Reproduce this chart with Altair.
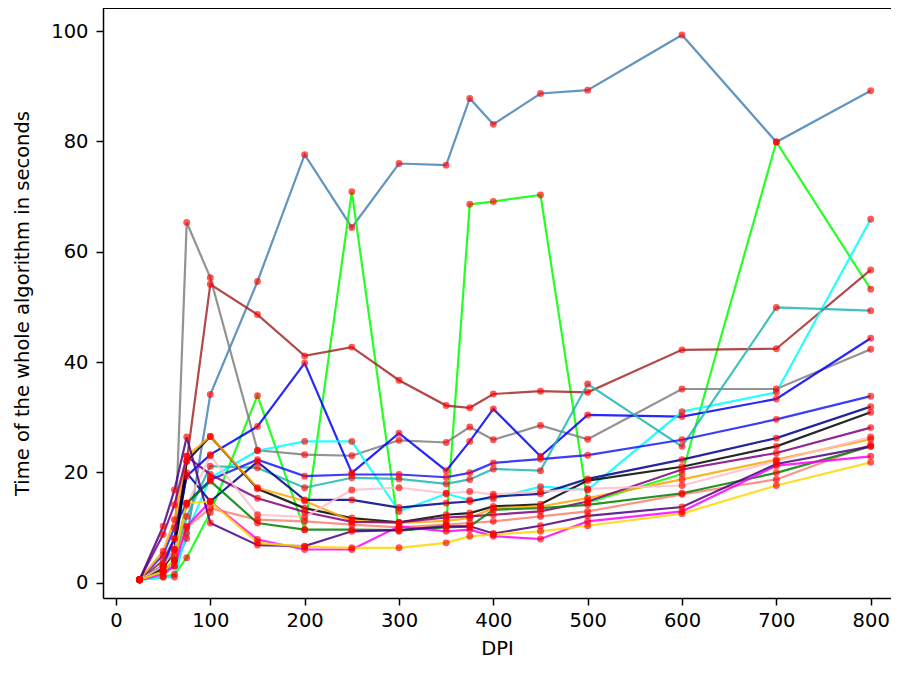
import altair as alt
import pandas as pd

dpi = [25, 50, 62, 75, 100, 150, 200, 250, 300, 350, 375, 400, 450, 500, 600, 700, 800]

series_names = ["steelblue", "lime", "gray", "brown", "blue1", "cyan", "teal", "blue2",
                "navy", "black", "orange", "purple", "pink", "salmon", "green",
                "magenta", "indigo", "gold"]
series_colors = ["#4682b4", "#00ff00", "#808080", "#a52a2a", "#0000ff", "#00ffff", "#20b5b5", "#1a1aff",
                 "#00008b", "#000000", "#ffa500", "#800080", "#ffc0cb", "#fa8072", "#008000",
                 "#ff00ff", "#4b0082", "#ffd700"]

steelblue = [0.5, 2.0, 3.0, 8.0, 34.1, 54.6, 77.6, 64.4, 76.0, 75.7, 87.8, 83.1, 88.7, 89.3, 99.3, 79.9, 89.2]
lime      = [0.5, 1.0, 1.5, 4.5, 12.7, 33.9, 9.6, 70.9, 9.3, 10.5, 68.6, 69.1, 70.3, 14.5, 19.7, 79.9, 53.2]
gray      = [0.5, 3.0, 5.0, 65.3, 55.3, 24.0, 23.2, 23.0, 25.8, 25.4, 28.2, 25.9, 28.5, 26.0, 35.1, 35.1, 42.3]
brown     = [0.5, 4.0, 8.0, 22.0, 54.1, 48.6, 41.1, 42.7, 36.7, 32.1, 31.7, 34.2, 34.7, 34.5, 42.2, 42.4, 56.7]
blue1     = [0.5, 3.0, 8.0, 19.3, 23.2, 28.3, 39.8, 19.9, 27.1, 20.3, 25.6, 31.5, 22.9, 30.4, 30.1, 33.3, 44.3]
cyan      = [0.5, 1.0, 1.0, 9.0, 19.0, 23.9, 25.6, 25.6, 12.9, 16.1, 15.0, 15.2, 17.4, 16.8, 31.0, 34.5, 65.9]
teal      = [0.5, 2.0, 4.0, 12.0, 21.1, 20.8, 17.2, 19.0, 18.8, 17.9, 18.7, 20.6, 20.3, 36.0, 24.7, 49.9, 49.3]
blue2     = [0.5, 5.0, 10.0, 14.4, 18.6, 22.3, 19.3, 19.6, 19.6, 19.1, 19.9, 21.7, 22.4, 23.1, 25.9, 29.6, 33.8]
navy      = [0.5, 3.0, 6.0, 19.9, 14.7, 21.9, 15.0, 15.0, 13.6, 14.4, 14.7, 15.6, 16.1, 18.8, 22.3, 26.2, 31.9]
black     = [0.5, 2.5, 6.0, 22.0, 26.5, 17.0, 13.5, 11.7, 10.9, 12.3, 12.6, 13.8, 14.2, 18.5, 21.0, 24.7, 30.9]
orange    = [0.5, 5.7, 11.4, 22.9, 26.5, 17.2, 14.8, 11.2, 10.8, 11.2, 11.7, 13.5, 13.8, 15.3, 18.7, 22.3, 26.0]
purple    = [0.5, 8.7, 14.1, 22.9, 19.6, 15.3, 12.8, 11.0, 10.9, 11.8, 12.0, 12.3, 12.9, 14.7, 20.5, 23.5, 28.1]
pink      = [0.5, 3.0, 6.0, 14.0, 23.0, 12.3, 11.9, 16.8, 17.2, 16.2, 16.5, 16.0, 16.5, 17.0, 17.6, 22.0, 26.4]
salmon    = [0.5, 2.0, 4.0, 10.0, 13.5, 11.4, 11.1, 10.5, 10.0, 10.5, 10.8, 11.1, 12.0, 12.9, 16.0, 18.7, 25.0]
green     = [0.5, 2.0, 4.0, 14.4, 18.4, 10.8, 9.6, 9.6, 9.5, 10.0, 10.2, 13.2, 13.5, 14.1, 16.2, 19.9, 24.7]
magenta   = [0.5, 1.5, 3.0, 10.2, 14.7, 7.8, 6.0, 6.0, 10.2, 9.3, 9.6, 8.4, 7.9, 11.1, 12.9, 21.2, 22.9]
indigo    = [0.5, 10.2, 16.8, 26.4, 10.8, 6.8, 6.6, 9.3, 9.5, 10.2, 10.2, 8.9, 10.3, 12.1, 13.7, 21.5, 24.7]
gold      = [0.5, 2.0, 4.0, 14.4, 14.7, 7.2, 6.5, 6.3, 6.3, 7.2, 8.4, 8.7, 9.3, 10.3, 12.5, 17.6, 21.8]

all_values = [steelblue, lime, gray, brown, blue1, cyan, teal, blue2, navy, black,
              orange, purple, pink, salmon, green, magenta, indigo, gold]

rows = []
for name, vals in zip(series_names, all_values):
    for d, v in zip(dpi, vals):
        rows.append({"series": name, "dpi": d, "time": v})
df = pd.DataFrame(rows)

FONT = "DejaVu Sans"
W = 788
H = 590
PX_PER_DPI = 0.9434

x_enc = alt.X("dpi:Q",
              scale=alt.Scale(domain=[-13.75, -13.75 + W / PX_PER_DPI], nice=False, zero=False),
              axis=alt.Axis(values=[0, 100, 200, 300, 400, 500, 600, 700, 800],
                            title="DPI", grid=False, format="d", labelPadding=6,
                            titleY=56, titleBaseline="alphabetic"))
y_enc = alt.Y("time:Q",
              scale=alt.Scale(domain=[-2.8, 104.2], nice=False, zero=False),
              axis=alt.Axis(values=[0, 20, 40, 60, 80, 100],
                            title="Time of the whole algorithm in seconds", grid=False, format="d",
                            labelPadding=8,
                            titleX=-81, titleY=H / 2, titleBaseline="middle"))

lines = alt.Chart(df).mark_line(strokeWidth=2.2, opacity=0.85).encode(
    x=x_enc, y=y_enc,
    color=alt.Color("series:N", scale=alt.Scale(domain=series_names, range=series_colors), legend=None),
    order=alt.Order("dpi:Q"))

points = alt.Chart(df).mark_circle(color="#ff0000", size=48, opacity=0.65).encode(
    x=x_enc, y=y_enc, detail="series:N")

top_spine = alt.Chart(df).mark_rule(color="#000000", strokeWidth=1.5).encode(
    x=alt.value(0), x2=alt.value(W), y=alt.value(0))

chart = alt.layer(lines, points, top_spine).properties(
    width=W, height=H,
    autosize=alt.AutoSizeParams(type="none"),
    padding={"left": 95, "top": 0, "right": 0, "bottom": 64},
).configure_view(
    stroke=None
).configure_axis(
    labelFont=FONT, titleFont=FONT, labelFontSize=19.5, titleFontSize=19.5,
    labelColor="#000000", titleColor="#000000", titleFontWeight="normal",
    domainColor="#000000", domainWidth=1.5, tickColor="#000000", tickWidth=1.5,
    tickSize=7
)

chart.save("out.html", embed_options={"renderer": "svg", "actions": False})
